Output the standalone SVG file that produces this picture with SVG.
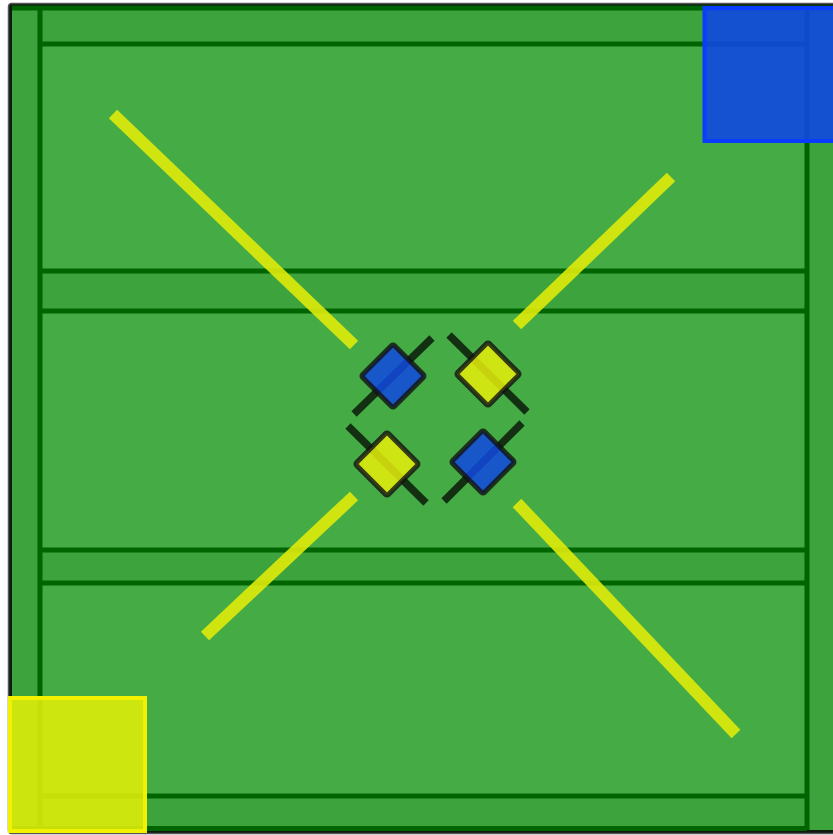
<svg xmlns="http://www.w3.org/2000/svg" width="833" height="835" viewBox="0 0 833 835">
  <style>
    .band { fill: #3da33d; }
    .dk { stroke: #006400; stroke-width: 5; fill: none; }
    .ray { stroke: #dfea0a; stroke-opacity: 0.9; stroke-width: 12; stroke-linecap: butt; }
    .axis { stroke: #0a1a0a; stroke-opacity: 0.85; stroke-width: 7.5; }
    .blue { fill: #1048e0; fill-opacity: 0.85; stroke: #111; stroke-opacity: 0.8; stroke-width: 5; }
    .yel { fill: #e6ee0a; fill-opacity: 0.85; stroke: #111; stroke-opacity: 0.8; stroke-width: 5; }
  </style>
  <rect x="0" y="0" width="833" height="835" fill="#ffffff"/>
  <g id="field">
    <rect x="8.5" y="3.5" width="830" height="830" rx="3" fill="#0d1a0d" stroke="#555" stroke-width="1.5"/>
    <rect x="12" y="8" width="821" height="822" fill="#45ac45"/>
    <rect class="band" x="12" y="8" width="28" height="822"/>
    <rect class="band" x="808" y="8" width="25" height="822"/>
    <rect class="band" x="42" y="8" width="764" height="36"/>
    <rect class="band" x="42" y="271" width="764" height="40"/>
    <rect class="band" x="42" y="550" width="764" height="33"/>
    <rect class="band" x="42" y="795" width="764" height="33"/>
    <line class="dk" x1="12" y1="8" x2="833" y2="8"/>
    <line class="dk" x1="40" y1="8" x2="40" y2="830"/>
    <line class="dk" x1="807" y1="8" x2="807" y2="830"/>
    <line class="dk" x1="40" y1="44" x2="807" y2="44"/>
    <line class="dk" x1="40" y1="271" x2="807" y2="271"/>
    <line class="dk" x1="40" y1="311" x2="807" y2="311"/>
    <line class="dk" x1="40" y1="550" x2="807" y2="550"/>
    <line class="dk" x1="40" y1="583" x2="807" y2="583"/>
    <line class="dk" x1="40" y1="796" x2="807" y2="796"/>
    <line class="dk" x1="12" y1="828.5" x2="807" y2="828.5"/>
  </g>
  <g id="rays">
    <line class="ray" x1="113" y1="114" x2="354" y2="345"/>
    <line class="ray" x1="671" y1="177" x2="517" y2="325"/>
    <line class="ray" x1="354" y1="496" x2="205" y2="636"/>
    <line class="ray" x1="517" y1="503" x2="736" y2="734"/>
  </g>
  <g id="piece-tl">
    <line class="axis" x1="354" y1="414" x2="432" y2="338"/>
    <rect class="blue" x="-22.5" y="-22.5" width="45" height="45" rx="2" transform="translate(393 376) rotate(45)"/>
  </g>
  <g id="piece-tr">
    <line class="axis" x1="449" y1="335" x2="527" y2="412"/>
    <rect class="yel" x="-22.5" y="-22.5" width="45" height="45" rx="2" transform="translate(488 374) rotate(45)"/>
  </g>
  <g id="piece-bl">
    <line class="axis" x1="348" y1="426" x2="426" y2="503"/>
    <rect class="yel" x="-22.5" y="-22.5" width="45" height="45" rx="2" transform="translate(387 464) rotate(45)"/>
  </g>
  <g id="piece-br">
    <line class="axis" x1="522" y1="423" x2="444" y2="501"/>
    <rect class="blue" x="-22.5" y="-22.5" width="45" height="45" rx="2" transform="translate(483 462) rotate(45)"/>
  </g>
  <g id="base-blue">
    <rect x="704.5" y="8" width="132" height="133" fill="#1048e0" fill-opacity="0.9" stroke="#0a3cff" stroke-width="4"/>
  </g>
  <g id="base-yellow">
    <rect x="10" y="698" width="135" height="133" fill="#dcec0a" fill-opacity="0.9" stroke="#f2f200" stroke-width="4"/>
  </g>
</svg>
